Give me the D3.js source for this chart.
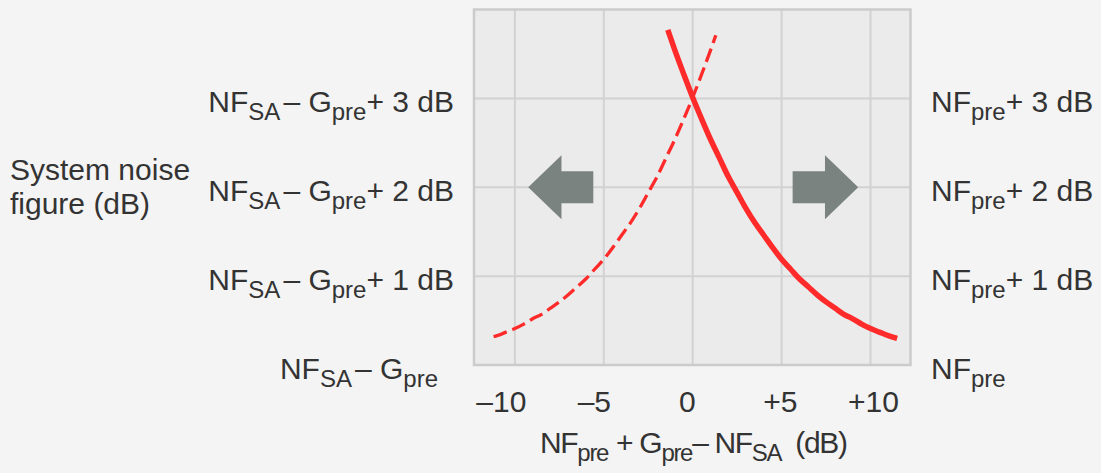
<!DOCTYPE html>
<html><head><meta charset="utf-8">
<script src="https://cdn.jsdelivr.net/npm/d3@7"></script>
<style>
html,body{margin:0;padding:0;background:#f4f4f4;}
svg{display:block;font-family:"Liberation Sans",Arial,Helvetica,sans-serif;}
</style></head>
<body>
<svg id="chart" width="1101" height="473"></svg>
<script>
// ---- data ----
const xTicks = [-10, -5, 0, 5, 10];
const xTickLabels = ["\u201310", "\u20135", "0", "+5", "+10"];
const yLevels = [0, 1, 2, 3];
const rightLabelsMain = ["NF", "NF", "NF", "NF"];
const rightLabelsTail = ["", "+ 1 dB", "+ 2 dB", "+ 3 dB"];
const leftLabelsTail = ["", "+ 1 dB", "+ 2 dB", "+ 3 dB"];

// solid curve: system NF above NF_pre
const solidX = [-1.4, -1, -0.5, 0, 0.5, 1, 1.5, 2, 2.5, 3, 3.5, 4, 4.5, 5, 5.5, 6, 6.5, 7, 7.5, 8, 8.5, 9, 9.5, 10, 10.5, 11, 11.5];
const solidY = [3.77, 3.54, 3.27, 3.01, 2.77, 2.54, 2.33, 2.12, 1.94, 1.76, 1.60, 1.46, 1.32, 1.19, 1.08, 0.97, 0.88, 0.79, 0.71, 0.64, 0.57, 0.52, 0.46, 0.41, 0.37, 0.33, 0.30];
// dashed curve: system NF above NF_SA - G_pre
const dashX = [-11.2, -11, -10.5, -10, -9.5, -9, -8.5, -8, -7.5, -7, -6.5, -6, -5.5, -5, -4.5, -4, -3.5, -3, -2.5, -2, -1.5, -1, -0.5, 0, 0.5, 1, 1.3];
const dashY = [0.32, 0.33, 0.37, 0.41, 0.46, 0.52, 0.57, 0.64, 0.71, 0.79, 0.88, 0.97, 1.08, 1.19, 1.32, 1.46, 1.60, 1.76, 1.94, 2.12, 2.33, 2.54, 2.77, 3.01, 3.27, 3.54, 3.71];

// ---- layout ----
const svg = d3.select("#chart");
const x = d3.scaleLinear().domain([-12.3, 12.25]).range([474, 910.5]);
const y = d3.scaleLinear().domain([0, 4]).range([365, 9.5]);
const xLab = d3.scaleLinear().domain([-10, 10]).range([501.3, 873.5]);

const textColor = "#333333";
const red = "#ff2b2b";

// plot background
svg.append("rect").attr("x", x(-12.3)).attr("y", y(4))
  .attr("width", x(12.25) - x(-12.3)).attr("height", y(0) - y(4))
  .attr("fill", "#ebebeb");

// grid
const grid = svg.append("g").attr("stroke", "#d2d2d2").attr("stroke-width", 2);
grid.selectAll("line.v").data(xTicks).join("line")
  .attr("x1", d => x(d)).attr("x2", d => x(d)).attr("y1", y(4)).attr("y2", y(0));
grid.selectAll("line.h").data(yLevels.filter(d => d > 0)).join("line")
  .attr("x1", x(-12.3)).attr("x2", x(12.25)).attr("y1", d => y(d)).attr("y2", d => y(d));

// frame
svg.append("rect").attr("x", x(-12.3)).attr("y", y(4))
  .attr("width", x(12.25) - x(-12.3)).attr("height", y(0) - y(4))
  .attr("fill", "none").attr("stroke", "#cbcbcb").attr("stroke-width", 2.5);

// arrows
const arrowColor = "#7b8380";
function arrow(tip, neck, tail, yc) {
  const yy = y(yc), hh = 32, sh = 16;
  const pts = [[x(tip), yy], [x(neck), yy - hh], [x(neck), yy - sh], [x(tail), yy - sh],
               [x(tail), yy + sh], [x(neck), yy + sh], [x(neck), yy + hh]];
  svg.append("path").attr("d", d3.line()(pts) + "Z").attr("fill", arrowColor);
}
arrow(-9.25, -7.38, -5.59, 2);
arrow(9.31, 7.44, 5.62, 2);

// curves
const line = d3.line().x(d => x(d[0])).y(d => y(d[1])).curve(d3.curveMonotoneX);
svg.append("path").datum(dashX.map((v, i) => [v, dashY[i]]))
  .attr("d", line).attr("fill", "none").attr("stroke", red)
  .attr("stroke-width", 3.3).attr("stroke-dasharray", "14,6");
svg.append("path").datum(solidX.map((v, i) => [v, solidY[i]]))
  .attr("d", line).attr("fill", "none").attr("stroke", red)
  .attr("stroke-width", 5.5);

// rich text helper
function rich(parent, xPos, yPos, anchor, segs) {
  const t = parent.append("text").attr("x", xPos).attr("y", yPos)
    .attr("text-anchor", anchor).attr("fill", textColor).attr("font-size", 30);
  let sub = false;
  segs.forEach(s => {
    const ts = t.append("tspan").text(s.t);
    if (s.sub && !sub) { ts.attr("dy", 8); sub = true; }
    else if (!s.sub && sub) { ts.attr("dy", -8); sub = false; }
    if (s.sub) ts.attr("font-size", 24);
    if (s.dx) ts.attr("dx", s.dx);
  });
  return t;
}

// right labels
yLevels.forEach((v, i) => {
  const segs = [{t: rightLabelsMain[i]}, {t: "pre", sub: true}];
  if (rightLabelsTail[i]) segs.push({t: rightLabelsTail[i]});
  rich(svg, 931, y(v) + 13.5, "start", segs);
});

// left labels
yLevels.forEach((v, i) => {
  const segs = [{t: "NF"}, {t: "SA", sub: true}, {t: "\u2013 G", dx: 3}, {t: "pre", sub: true}];
  if (leftLabelsTail[i]) segs.push({t: leftLabelsTail[i]});
  rich(svg, leftLabelsTail[i] ? 454 : 438, y(v) + 13.5, "end", segs);
});

// y title
svg.append("text").attr("x", 10).attr("y", 180).attr("font-size", 30).attr("fill", textColor).text("System noise");
svg.append("text").attr("x", 10).attr("y", 214).attr("font-size", 30).attr("fill", textColor).text("figure (dB)");

// x tick labels
svg.selectAll("text.tick").data(xTicks).join("text")
  .attr("class", "tick").attr("x", d => xLab(d)).attr("y", 411.5)
  .attr("text-anchor", "middle").attr("font-size", 30).attr("fill", textColor)
  .text((d, i) => xTickLabels[i]);

// x title
rich(svg, 694, 453, "middle", [
  {t: "NF"}, {t: "pre", sub: true}, {t: "+ G", dx: 8}, {t: "pre", sub: true},
  {t: "\u2013"}, {t: "NF", dx: 7}, {t: "SA", sub: true}, {t: "(dB)", dx: 14}
]).attr("textLength", 308).attr("lengthAdjust", "spacing");
</script>
</body></html>
